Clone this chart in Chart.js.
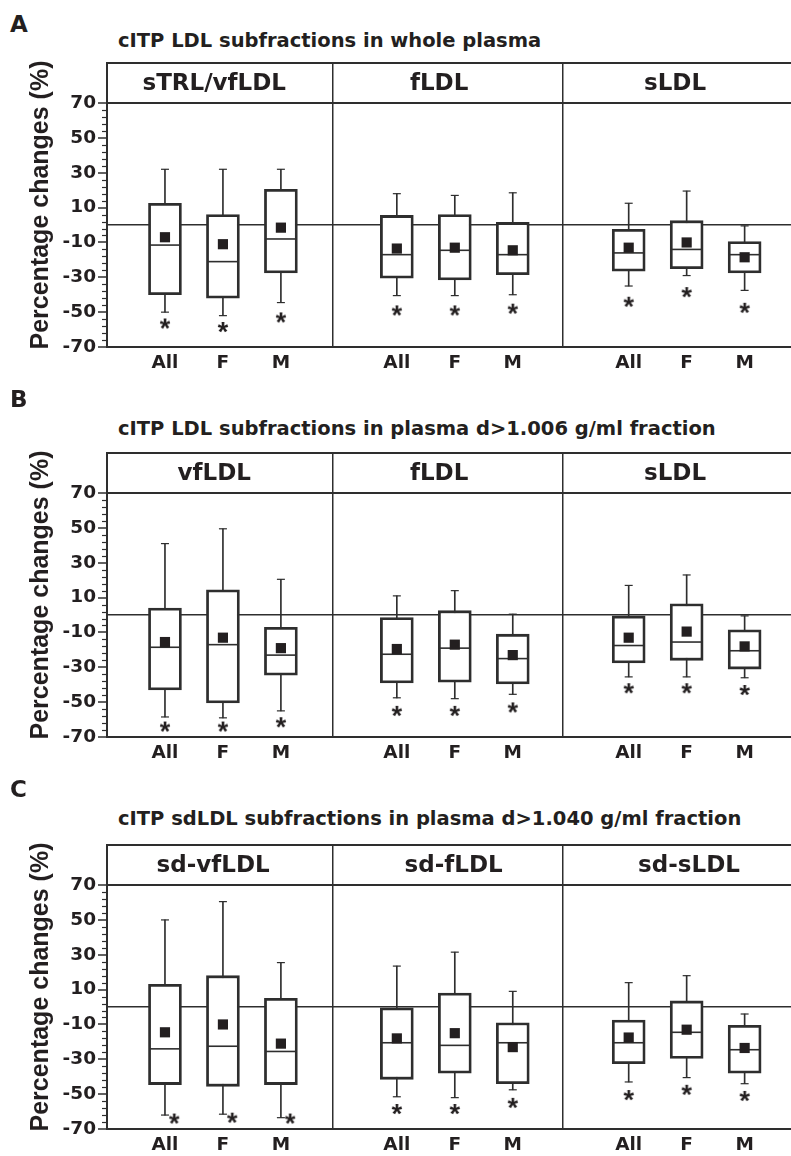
<!DOCTYPE html>
<html>
<head>
<meta charset="utf-8">
<script src="https://cdn.jsdelivr.net/npm/chart.js@4.4.0/dist/chart.umd.min.js"></script>
<style>
  body { margin: 0; background: #fff; width: 791px; height: 1156px; overflow: hidden; position: relative;
         font-family: "DejaVu Sans", sans-serif; color: #231f20; }
  .panel { position: absolute; left: 0; width: 791px; height: 390px; }
  .letter { position: absolute; left: 10px; font-weight: bold; font-size: 23px; line-height: 1; }
  .title { position: absolute; left: 118px; font-weight: bold; font-size: 19.5px; line-height: 1; white-space: nowrap; }
</style>
</head>
<body>
<div class="letter" style="top:12.5px">A</div>
<div class="title" style="top:30.5px">cITP LDL subfractions in whole plasma</div>
<div class="panel" style="top:0px"><canvas id="chartA"></canvas></div>

<div class="letter" style="top:387.5px">B</div>
<div class="title" style="top:418.5px">cITP LDL subfractions in plasma d&gt;1.006 g/ml fraction</div>
<div class="panel" style="top:390px"><canvas id="chartB"></canvas></div>

<div class="letter" style="top:777.5px">C</div>
<div class="title" style="top:808.5px">cITP sdLDL subfractions in plasma d&gt;1.040 g/ml fraction</div>
<div class="panel" style="top:782px"><canvas id="chartC"></canvas></div>

<script>
const groups = ['All', 'F', 'M'];

// panel A: sTRL/vfLDL, fLDL, sLDL (All, F, M each)
const headersA = ['sTRL/vfLDL', 'fLDL', 'sLDL'];
const maxA  = [32, 32, 32, 18, 17, 18.5, 12.5, 19.5, -0.5];
const q3A   = [12.5, 6, 20.5, 5.5, 6, 1.5, -2.5, 2.5, -9.5];
const medA  = [-11.5, -21, -8, -17, -14.5, -17, -16, -14, -17];
const q1A   = [-40, -42, -27.5, -30.5, -31.5, -28.5, -26.5, -25, -27.5];
const minA  = [-50, -52, -44.5, -40.5, -40.5, -40, -35, -29, -37.5];
const meanA = [-7, -11, -1.5, -13.5, -13, -14.5, -13, -10, -18.5];
const starA = [-56.5, -58.5, -53, -49, -49, -48, -44, -38.5, -47.5];

// panel B: vfLDL, fLDL, sLDL
const headersB = ['vfLDL', 'fLDL', 'sLDL'];
const maxB  = [41, 49.5, 20.5, 11, 14, 0.5, 17, 23, -0.5];
const q3B   = [4, 14.5, -7, -1.5, 2.5, -11, -0.5, 6.5, -8.5];
const medB  = [-18.5, -17, -23, -22.5, -19, -25, -17.5, -15.5, -20.5];
const q1B   = [-43, -50.5, -34.5, -39, -38.5, -39.5, -27.5, -26, -31];
const minB  = [-58.5, -59, -55, -47.5, -48, -45.5, -35.5, -35.5, -36];
const meanB = [-15.5, -13, -19, -19.5, -17, -23, -13, -9.5, -18];
const starB = [-64, -64, -61.5, -55, -55, -53, -42, -42, -43];

// panel C: sd-vfLDL, sd-fLDL, sd-sLDL
const headersC = ['sd-vfLDL', 'sd-fLDL', 'sd-sLDL'];
const maxC  = [50, 60.5, 25.5, 23.5, 31.5, 9, 14, 18, -4];
const q3C   = [13, 18, 5, 0, 8, -9, -7.5, 3.5, -10.5];
const medC  = [-24, -22.5, -25.5, -20.5, -22, -20.5, -20.5, -14.5, -24.5];
const q1C   = [-44.5, -45.5, -44.5, -41.5, -38, -44, -32.5, -29.5, -38];
const minC  = [-62, -61.5, -63.5, -51.5, -52, -47.5, -43, -40.5, -44];
const meanC = [-14.5, -10, -21, -18, -15, -23, -17.5, -13, -23.5];
const starC = [-64, -63.5, -64, -58.5, -58.5, -55, -50.5, -47.5, -51];

const yTicks = [-70, -50, -30, -10, 10, 30, 50, 70];

const ink = '#231f20';
const line = '#2e2e2e';
const font = '"DejaVu Sans", sans-serif';

// x slot of each box: 3 per subpanel, one empty slot between subpanels
const slots = [0, 1, 2, 4, 5, 6, 8, 9, 10];
const dividers = [2.9, 6.87];
const TOP = 93;

function makeStar() {
  const c = document.createElement('canvas');
  c.width = 24; c.height = 24;
  const g = c.getContext('2d');
  g.font = 'bold 27px "Liberation Sans", Arial, sans-serif';
  g.fillStyle = ink;
  g.textAlign = 'center';
  const m = g.measureText('*');
  g.fillText('*', 12, 12 + (m.actualBoundingBoxAscent - m.actualBoundingBoxDescent) / 2);
  return c;
}
const star = makeStar();

const panelPlugin = {
  id: 'panel',
  afterDraw(chart, args, opts) {
    const { ctx, scales: { x, y } } = chart;
    ctx.save();
    // minor ticks on the y axis
    ctx.strokeStyle = line;
    ctx.lineWidth = 1.2;
    for (let v = -66; v < 70; v += 4) {
      if ((v + 70) % 20 === 0) continue;
      const py = Math.round(y.getPixelForValue(v)) + 0.5;
      ctx.beginPath();
      ctx.moveTo(x.left - 5, py);
      ctx.lineTo(x.left, py);
      ctx.stroke();
    }
    // subpanel headers
    const hy = (y.getPixelForValue(TOP) + y.getPixelForValue(70)) / 2 + 1;
    ctx.font = 'bold 23px ' + font;
    ctx.fillStyle = ink;
    ctx.textAlign = 'center';
    ctx.textBaseline = 'middle';
    opts.labels.forEach((t, i) => ctx.fillText(t, x.getPixelForValue(opts.at[i]), hy));
    ctx.restore();
  }
};

function buildChart(id, p) {
  const pts = arr => arr.map((v, i) => ({ x: slots[i], y: v }));
  const range = (lo, hi) => lo.map((v, i) => ({ x: slots[i], y: [v, hi[i]] }));
  new Chart(document.getElementById(id), {
    type: 'bar',
    data: {
      datasets: [
        { type: 'bar', data: range(p.min, p.max), backgroundColor: line, barThickness: 1, grouped: false, order: 6 },
        { type: 'scatter', data: pts(p.min).concat(pts(p.max)), pointStyle: 'line', pointRadius: 4,
          pointBorderWidth: 1.2, pointBorderColor: line, order: 5 },
        { type: 'bar', data: range(p.q1, p.q3), backgroundColor: '#fff', borderColor: line, borderWidth: 2.8,
          borderSkipped: false, barThickness: 33, grouped: false, order: 4 },
        { type: 'scatter', data: pts(p.med), pointStyle: 'line', pointRadius: 15,
          pointBorderWidth: 1.6, pointBorderColor: line, order: 3 },
        { type: 'scatter', data: pts(p.mean), pointStyle: 'rect', pointRadius: 7.2,
          pointBackgroundColor: ink, pointBorderWidth: 0, order: 2 },
        { type: 'scatter', data: p.star.map((v, i) => ({ x: slots[i] + (p.starDx[i] || 0), y: v })),
          pointStyle: star, pointRadius: 5, order: 1 }
      ]
    },
    options: {
      responsive: false,
      animation: false,
      layout: { autoPadding: false, padding: { top: 63, left: 0, right: 0, bottom: 0 } },
      plugins: { legend: { display: false }, tooltip: { enabled: false }, panel: { labels: p.headers, at: p.headerAt } },
      scales: {
        x: {
          type: 'linear', min: -1, max: 10.8, offset: false,
          afterBuildTicks: s => { s.ticks = [0, 1, 2, 2.9, 4, 5, 6, 6.87, 8, 9, 10].map(v => ({ value: v })); },
          afterFit: s => { s.height = 43; },
          border: { display: true, color: line, width: 2 },
          grid: { offset: false, drawTicks: false, lineWidth: 1.5,
                  color: c => dividers.includes(c.tick.value) ? line : 'transparent' },
          ticks: { autoSkip: false, maxRotation: 0, padding: 5, color: ink,
                   font: { family: font, size: 18.5, weight: 'bold' },
                   callback: v => { const i = slots.indexOf(v); return i < 0 ? '' : groups[i % 3]; } }
        },
        y: {
          min: -70, max: TOP,
          afterBuildTicks: s => { s.ticks = yTicks.concat([0, TOP]).sort((a, b) => a - b).map(v => ({ value: v })); },
          afterFit: s => { s.width = 107; },
          border: { display: true, color: line, width: 2 },
          grid: {
            lineWidth: c => c.tick.value === 0 ? 1.5 : 2,
            color: c => (c.tick.value === 0 || c.tick.value === 70 || c.tick.value === TOP) ? line : 'transparent',
            tickColor: c => (c.tick.value === 0 || c.tick.value === TOP) ? 'transparent' : line,
            tickLength: 9, tickWidth: 1.5
          },
          ticks: { padding: 2, color: ink, font: { family: font, size: 18.5, weight: 'bold' },
                   callback: v => (v === 0 || v === TOP) ? '' : String(v) },
          title: { display: true, text: 'Percentage changes (%)', color: ink,
                   font: { family: '"Liberation Sans", Arial, sans-serif', size: 25, weight: 'bold' },
                   padding: { top: 26, bottom: 0 } }
        }
      }
    },
    plugins: [panelPlugin]
  });
}

function sizeCanvas(id) {
  const c = document.getElementById(id);
  c.width = 791; c.height = 390;
  c.style.width = '791px'; c.style.height = '390px';
}
['chartA', 'chartB', 'chartC'].forEach(sizeCanvas);

buildChart('chartA', { min: minA, q1: q1A, med: medA, q3: q3A, max: maxA, mean: meanA, star: starA,
  starDx: [], headers: headersA, headerAt: [0.85, 4.73, 8.8] });
buildChart('chartB', { min: minB, q1: q1B, med: medB, q3: q3B, max: maxB, mean: meanB, star: starB,
  starDx: [], headers: headersB, headerAt: [0.85, 4.73, 8.8] });
buildChart('chartC', { min: minC, q1: q1C, med: medC, q3: q3C, max: maxC, mean: meanC, star: starC,
  starDx: [0.16, 0.16, 0.16], headers: headersC, headerAt: [0.83, 4.98, 9.04] });
</script>
</body>
</html>
